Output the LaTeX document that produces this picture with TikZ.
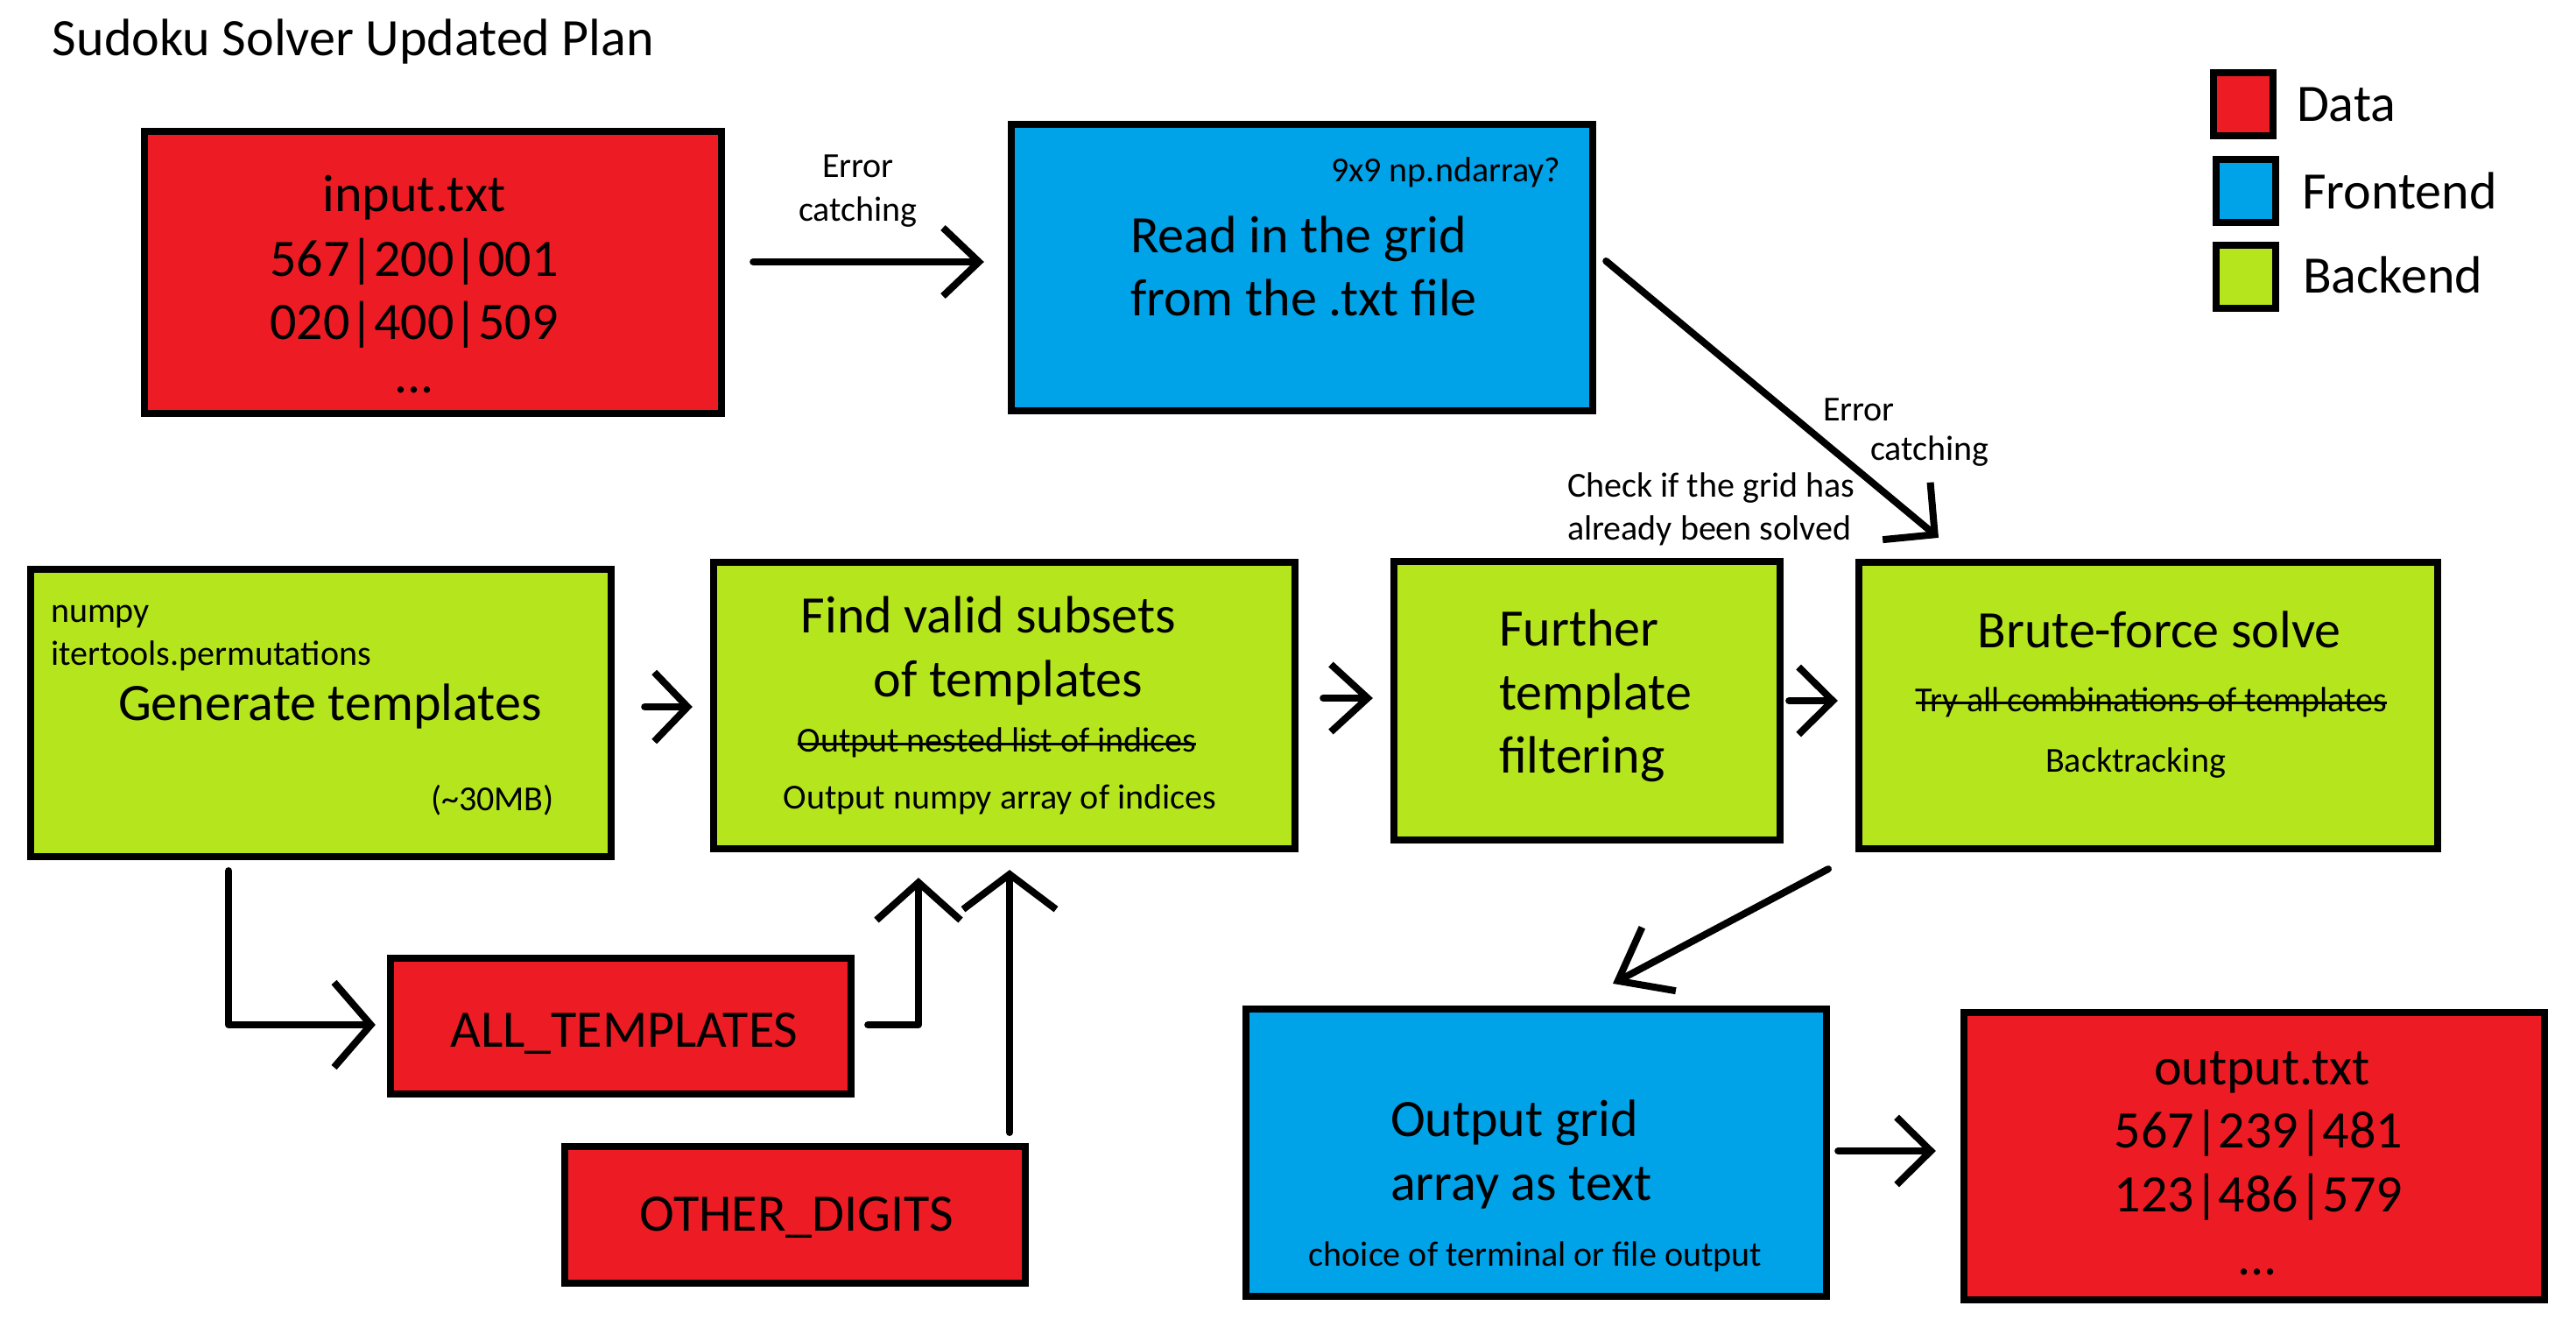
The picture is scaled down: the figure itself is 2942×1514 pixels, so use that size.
\documentclass[tikz,border=0pt]{standalone}
\usepackage{fontspec}
\setmainfont{Carlito}
\usetikzlibrary{arrows.meta,calc}
\definecolor{datared}{RGB}{237,28,36}
\definecolor{frontblue}{RGB}{0,162,232}
\definecolor{backgreen}{RGB}{181,230,29}
\newcommand\myBig{\fontsize{17.07pt}{20.5pt}\selectfont}
\newcommand\mySmall{\fontsize{11.38pt}{13.7pt}\selectfont}
\tikzset{
  box/.style={draw=black, line width=0.08cm, inner sep=0pt, outer sep=0pt},
  data/.style={box, fill=datared},
  front/.style={box, fill=frontblue},
  back/.style={box, fill=backgreen},
  big/.style={inner sep=0pt, outer sep=0pt, font=\myBig},
  small/.style={inner sep=0pt, outer sep=0pt, font=\mySmall},
  arr/.style={draw=black, line width=0.08cm, line cap=round, line join=round},
  barb/.style 2 args={-{Straight Barb[length=#1,width=#2]}},
  strike/.style={draw=black, line width=0.03cm},
}
\begin{document}
\begin{tikzpicture}[x=0.01cm, y=-0.01cm]
\useasboundingbox (0,0) rectangle (2942,1514);
\fill[white] (0,0) rectangle (2942,1514);

% title
\node[big, anchor=base west] (title) at (60,63) {Sudoku Solver Updated Plan};

% legend
\node[data, minimum width=0.68cm, minimum height=0.72cm] (lgdata) at (2562,119) {};
\node[front, minimum width=0.68cm, minimum height=0.72cm] (lgfront) at (2565,218) {};
\node[back, minimum width=0.68cm, minimum height=0.72cm] (lgback) at (2565,316) {};
\node[big, anchor=base west] (lgdatat) at (2623,138) {Data};
\node[big, anchor=base west] (lgfrontt) at (2629,238) {Frontend};
\node[big, anchor=base west] (lgbackt) at (2630,334) {Backend};

% boxes
\node[data, minimum width=6.59cm, minimum height=3.22cm] (input) at (494.5,311) {};
\node[front, minimum width=6.64cm, minimum height=3.27cm] (read) at (1487,305.5) {};
\node[back, minimum width=6.63cm, minimum height=3.28cm] (gen) at (366.5,814) {};
\node[back, minimum width=6.64cm, minimum height=3.27cm] (find) at (1147,805.5) {};
\node[back, minimum width=4.41cm, minimum height=3.18cm] (further) at (1812.5,800) {};
\node[back, minimum width=6.61cm, minimum height=3.27cm] (brute) at (2453.5,805.5) {};
\node[data, minimum width=5.26cm, minimum height=1.55cm] (all) at (709,1171.5) {};
\node[data, minimum width=5.26cm, minimum height=1.56cm] (other) at (908,1387) {};
\node[front, minimum width=6.63cm, minimum height=3.28cm] (outgrid) at (1754.5,1316) {};
\node[data, minimum width=6.63cm, minimum height=3.28cm] (outtxt) at (2574.5,1320) {};

% input.txt
\node[big, anchor=base] (in1) at (473,241) {input.txt};
\node[big, anchor=base] (in2) at (473,315) {567|200|001};
\node[big, anchor=base] (in3) at (473,387) {020|400|509};
\node[big, anchor=base] (in4) at (473,448) {...};

% read
\node[small, anchor=base west] (rd0) at (1520,207) {9x9 np.ndarray?};
\node[big, anchor=base west] (rd1) at (1291,288) {Read in the grid};
\node[big, anchor=base west] (rd2) at (1291,360) {from the .txt file};

% generate
\node[small, anchor=base west] (gn1) at (58,710) {numpy};
\node[small, anchor=base west] (gn2) at (58,759) {itertools.permutations};
\node[big, anchor=base west] (gn3) at (135,822) {Generate templates};
\node[small, anchor=base west] (gn4) at (492,925) {(\textasciitilde 30MB)};

% find
\node[big, anchor=base] (fd1) at (1129,722) {Find valid subsets};
\node[big, anchor=base] (fd2) at (1151.5,795) {of templates};
\node[small, anchor=base] (fd3) at (1138.5,858) {Output nested list of indices};
\draw[strike] ($(fd3.base west)+(0,-9)$) -- ($(fd3.base east)+(0,-9)$);
\node[small, anchor=base] (fd4) at (1142,923) {Output numpy array of indices};

% further
\node[big, anchor=base west] (fu1) at (1712,737) {Further};
\node[big, anchor=base west] (fu2) at (1712,810) {template};
\node[big, anchor=base west] (fu3) at (1712,882) {filtering};

% brute
\node[big, anchor=base] (br1) at (2466,739) {Brute-force solve};
\node[small, anchor=base] (br2) at (2457,812) {Try all combinations of templates};
\draw[strike] ($(br2.base west)+(0,-10)$) -- ($(br2.base east)+(0,-10)$);
\node[small, anchor=base] (br3) at (2439,881) {Backtracking};

% data constants
\node[big, anchor=base] (allt) at (713,1195) {ALL\_TEMPLATES};
\node[big, anchor=base] (othert) at (910,1405) {OTHER\_DIGITS};

% output grid
\node[big, anchor=base west] (og1) at (1588,1297) {Output grid};
\node[big, anchor=base west] (og2) at (1588,1370) {array as text};
\node[small, anchor=base] (og3) at (1753.5,1445) {choice of terminal or file output};

% output.txt
\node[big, anchor=base] (ot1) at (2583.5,1238) {output.txt};
\node[big, anchor=base] (ot2) at (2579.5,1310) {567|239|481};
\node[big, anchor=base] (ot3) at (2579.5,1383) {123|486|579};
\node[big, anchor=base] (ot4) at (2578,1455) {...};

% labels
\node[small, anchor=base] (ec1) at (980,202) {Error};
\node[small, anchor=base] (ec2) at (980,252) {catching};
\node[small, anchor=base west] (ec3) at (2082,480) {Error};
\node[small, anchor=base west] (ec4) at (2136,525) {catching};
\node[small, anchor=base west] (ck1) at (1790,567) {Check if the grid has};
\node[small, anchor=base west] (ck2) at (1790,616) {already been solved};

% connectors
\draw[arr, barb={0.41cm}{0.78cm}] ($(input.east)+(36,-12)$) -- ($(read.west)+(-31,-6.5)$);
\draw[arr, barb={0.42cm}{0.85cm}] ($(read.east)+(15,-7.5)$) -- ($(brute.north)+(-239.5,-28)$);
\draw[arr, barb={0.38cm}{0.79cm}] ($(gen.east)+(38,-7)$) -- ($(find.west)+(-24,1.5)$);
\draw[arr, barb={0.42cm}{0.77cm}] ($(find.east)+(32,-8.5)$) -- ($(further.west)+(-24,-3)$);
\draw[arr, barb={0.39cm}{0.77cm}] ($(further.east)+(10,0)$) -- ($(brute.west)+(-24,-5.5)$);
\draw[arr, barb={0.42cm}{0.97cm}] ($(gen.south)+(-105.5,16)$) |- ($(all.west)+(-17,-1.5)$);
\draw[arr, barb={0.43cm}{0.96cm}] ($(all.east)+(19,-1.5)$) -| ($(find.south)+(-98,33)$);
\draw[arr, barb={0.40cm}{1.06cm}] ($(other.north)+(245,-16)$) -- ($(find.south)+(6,24)$);
\draw[arr, barb={0.53cm}{0.82cm}] ($(brute.south)+(-365.5,23)$) -- ($(outgrid.north)+(87.5,-29)$);
\draw[arr, barb={0.39cm}{0.77cm}] ($(outgrid.east)+(13,-2)$) -- ($(outtxt.west)+(-32,-6)$);
\end{tikzpicture}
\end{document}
